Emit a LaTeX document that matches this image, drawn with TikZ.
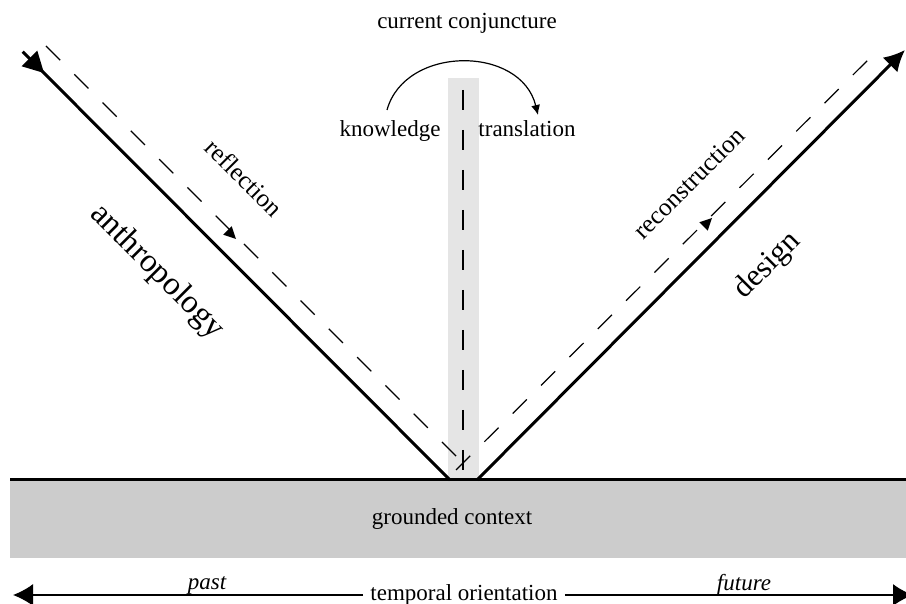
\documentclass[tikz,border=0pt]{standalone}
\usepackage{fontspec}
\setmainfont{Liberation Serif}
\usetikzlibrary{arrows.meta}

\definecolor{groundgray}{gray}{0.80}
\definecolor{bargray}{gray}{0.90}

\begin{document}
\begin{tikzpicture}[x=0.5pt,y=-0.5pt,
  solidline/.style={line width=1.5pt},
  dashline/.style={line width=0.6pt, dash pattern=on 10pt off 10pt},
  headfill/.style={fill=black},
  lbl/.style={font=\fontsize{11.5}{13}\selectfont, inner sep=1pt},
  bigl/.style={font=\fontsize{16.5}{18}\selectfont, inner sep=1pt},
  midl/.style={font=\fontsize{12.7}{14}\selectfont, inner sep=1pt},
  desl/.style={font=\fontsize{15.5}{17}\selectfont, inner sep=1pt}
]
\useasboundingbox (0,0) rectangle (906,604);
\clip (0,0) rectangle (906,604);

% ground and central band
\fill[groundgray] (10,480) rectangle (906,558);
\fill[bargray] (448,78) rectangle (479,480);
\coordinate (gL) at (10,480);
\coordinate (gR) at (906,480);
\draw[solidline] (gL) -- (gR);

% end points of the two main strokes
\coordinate (apexL) at (450,480);
\coordinate (apexR) at (477,480);
\coordinate (endL) at (22.7,51.7);
\coordinate (endR) at (905,50);

% anthropology stroke, head pointing back towards the ground
\draw[solidline] (endL) -- (apexL);
\fill[headfill] (37.3,50.7) -- (21.7,66.3) -- (44,73) -- cycle;
% design stroke
\draw[solidline, -{Latex[length=10.5pt,width=10.5pt]}] (apexR) -- (endR);

% dashed reflection / reconstruction paths
\coordinate (dL1) at (46,46);
\coordinate (dL2) at (470,470);
\coordinate (dR1) at (456,470);
\coordinate (dR2) at (881,47);
\draw[dashline] (dL1) -- (dL2);
\draw[dashline] (dR1) -- (dR2);
% direction marks on the dashed paths
\fill[headfill] (231.7,226.3) -- (223.3,234.7) -- (236,239) -- cycle;
\fill[headfill] (707.7,230.7) -- (699.3,222.3) -- (712,218) -- cycle;

% central dashed axis
\coordinate (cTop) at (463,90);
\coordinate (cBot) at (463,472);
\draw[dashline] (cTop) -- (cBot);

% labels
\node[lbl, anchor=base] (conj) at (467,29) {current conjuncture};
\node[lbl, anchor=base] (know) at (390,137) {knowledge};
\node[lbl, anchor=base] (trans) at (527,137) {translation};
\coordinate (arcS) at (387,110);
\coordinate (arcE) at (538,115);
\draw[line width=0.6pt, -{Latex[length=5pt,width=4.5pt]}]
  (arcS) .. controls (405,45) and (521,45) .. (arcE);

\node[midl, rotate=-45] (refl) at (244,178) {reflection};
\node[bigl, rotate=-45] (anth) at (157,272) {anthropology};
\node[midl, rotate=45] (recon) at (689,183) {reconstruction};
\node[desl, rotate=45] (design) at (768,266) {design};

\node[lbl, anchor=base] (ground) at (452,524) {grounded context};

% temporal axis
\node[lbl, fill=white, inner xsep=3.5pt] (temporal) at (464,595) {temporal orientation};
\coordinate (pastEnd) at (13,595);
\coordinate (futEnd) at (913,595);
\draw[line width=0.7pt, -{Latex[length=10pt,width=11pt]}] (temporal.west) -- (pastEnd);
\draw[line width=0.7pt, -{Latex[length=10pt,width=11pt]}] (temporal.east) -- (futEnd);
\node[lbl, anchor=base, font=\fontsize{11.5}{13}\selectfont\itshape] (past) at (207,589) {past};
\node[lbl, anchor=base, font=\fontsize{11.5}{13}\selectfont\itshape] (future) at (744,590) {future};
\end{tikzpicture}
\end{document}
